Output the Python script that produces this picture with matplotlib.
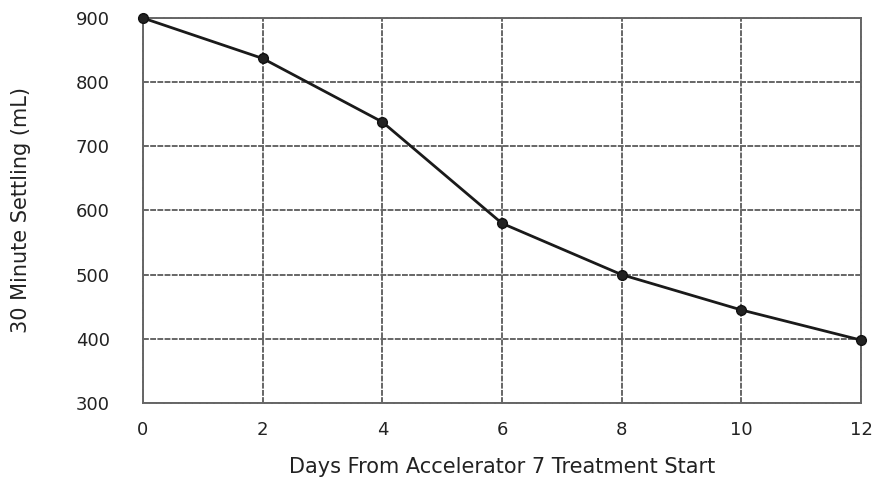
import matplotlib

matplotlib.use("Agg")
import matplotlib.pyplot as plt

days = [0, 2, 4, 6, 8, 10, 12]
settling_ml = [900, 837, 738, 580, 500, 445, 398]
x_ticks = [0, 2, 4, 6, 8, 10, 12]
y_ticks = [300, 400, 500, 600, 700, 800, 900]

plt.rcParams["font.family"] = ["DejaVu Sans"]

fig = plt.figure(figsize=(8.75, 4.79), dpi=100)
# plot area kept a few px inside the right edge so the "12" label fits
ax = fig.add_axes([0.1634, 0.1587, 0.8206, 0.8037])

ax.plot(days, settling_ml, color="#1a1a1a", linewidth=2.0, marker="o",
        markersize=7, markerfacecolor="#222222", markeredgecolor="#111111",
        zorder=3, clip_on=False)

ax.set_xlim(0, 12)
ax.set_ylim(300, 900)
ax.set_xticks(x_ticks)
ax.set_yticks(y_ticks)
ax.grid(True, color="#666666", linewidth=1.4, linestyle=(0, (3, 0.7)))
for s in ax.spines.values():
    s.set_color("#666666")
    s.set_linewidth(1.4)
    s.set_linestyle((0, (3, 0.7)))
ax.tick_params(length=0, labelsize=13, colors="#222222")
ax.tick_params(axis="x", pad=13)
ax.tick_params(axis="y", pad=24)
ax.set_xlabel("Days From Accelerator 7 Treatment Start", fontsize=15,
              color="#222222", labelpad=13)
ax.set_ylabel("30 Minute Settling (mL)", fontsize=15, color="#222222",
              labelpad=32)

fig.savefig("out.png", dpi=100)
